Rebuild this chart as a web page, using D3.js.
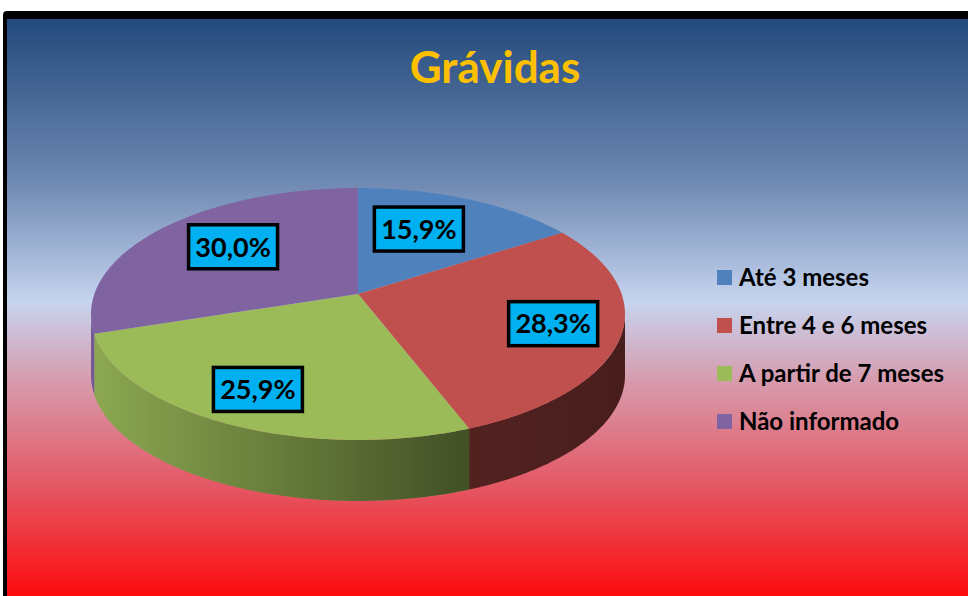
<!DOCTYPE html>
<html>
<head>
<meta charset="utf-8">
<script src="https://cdnjs.cloudflare.com/ajax/libs/d3/7.8.5/d3.min.js"></script>
<style>
  html, body { margin: 0; padding: 0; background: #fff; }
  svg { display: block; font-family: Lato, "Open Sans", sans-serif; }
</style>
</head>
<body>
<div id="chart"></div>
<script>
// data
var title = "Grávidas";
var categories = ["Até 3 meses", "Entre 4 e 6 meses", "A partir de 7 meses", "Não informado"];
var values = [15.9, 28.3, 25.9, 30.0];
var colors = ["#4f81bd", "#c0504d", "#9bbb59", "#8064a2"];

// label placement (radius as fraction of the pie, angle nudge in degrees)
var labelRadius = [0.63, 0.75, 0.77, 0.65];
var labelNudge = [-5, 0, 0.5, 3];

var width = 968, height = 596;
var cx = 358, cy = 294;      // projected centre of the top face
var rx = 263.6, ry = 122.8;  // pie radii before perspective
var persp = 0.1587;          // perspective strength (near side bigger)
var depth = 61;              // thickness of the pie

var svg = d3.select("#chart").append("svg")
  .attr("width", width).attr("height", height);
var defs = svg.append("defs");

// background gradient
var bg = defs.append("linearGradient").attr("id", "bg")
  .attr("x1", 0).attr("y1", 0).attr("x2", 0).attr("y2", 1);
bg.append("stop").attr("offset", 0).attr("stop-color", "#234a7c");
bg.append("stop").attr("offset", 0.28).attr("stop-color", "#6d88b1");
bg.append("stop").attr("offset", 0.49).attr("stop-color", "#c6d4ef");
bg.append("stop").attr("offset", 0.63).attr("stop-color", "#d79aac");
bg.append("stop").attr("offset", 0.82).attr("stop-color", "#e5535f");
bg.append("stop").attr("offset", 1).attr("stop-color", "#fd0c0e");

// shading for the pie walls
var shade = defs.append("linearGradient").attr("id", "shade")
  .attr("gradientUnits", "userSpaceOnUse")
  .attr("x1", cx - 267).attr("y1", 0).attr("x2", cx + 267).attr("y2", 0);
shade.append("stop").attr("offset", 0).attr("stop-color", "#000").attr("stop-opacity", 0.1);
shade.append("stop").attr("offset", 0.4).attr("stop-color", "#000").attr("stop-opacity", 0.37);
shade.append("stop").attr("offset", 0.7).attr("stop-color", "#000").attr("stop-opacity", 0.57);
shade.append("stop").attr("offset", 1).attr("stop-color", "#000").attr("stop-opacity", 0.63);

// frame
svg.append("rect").attr("x", 3).attr("y", 11).attr("width", 1000).attr("height", 700)
  .attr("rx", 4).attr("fill", "#000");
svg.append("rect").attr("x", 7).attr("y", 19).attr("width", 1000).attr("height", height - 19)
  .attr("fill", "url(#bg)");

// title
svg.append("text").attr("x", 495).attr("y", 83)
  .attr("text-anchor", "middle")
  .attr("font-size", 44).attr("font-weight", "bold")
  .attr("fill", "#ffc000")
  .text(title);

// angle 0 = top (far side), going clockwise
function project(a, r, dz) {
  var u = Math.sin(a) * r, v = -Math.cos(a) * r;
  var k = 1 - persp * v;
  return [cx + rx * u / k, cy + ry * v / k + (dz || 0)];
}

function arcPoints(a0, a1, dz) {
  var n = Math.max(2, Math.ceil((a1 - a0) / 0.01));
  return d3.range(n + 1).map(function(i) {
    return project(a0 + (a1 - a0) * i / n, 1, dz);
  });
}

var pie = d3.pie().sort(null).value(function(d) { return d; });
var arcs = pie(values);
var line = d3.line();

var pieG = svg.append("g");

// walls (only the near half is visible)
var visA = Math.acos(-persp), visB = 2 * Math.PI - Math.acos(-persp);
arcs.forEach(function(d, i) {
  var a0 = Math.max(d.startAngle, visA), a1 = Math.min(d.endAngle, visB);
  if (a1 <= a0) return;
  var pts = arcPoints(a0, a1, 0).concat(arcPoints(a0, a1, depth).reverse());
  pieG.append("path").attr("d", line(pts) + "Z").attr("fill", colors[i]);
  pieG.append("path").attr("d", line(pts) + "Z").attr("fill", "url(#shade)");
});

// top faces
arcs.forEach(function(d, i) {
  var pts = [project(0, 0)].concat(arcPoints(d.startAngle, d.endAngle, 0));
  pieG.append("path").attr("d", line(pts) + "Z").attr("fill", colors[i]);
});

// data labels
var labW = 89, labH = 44;
arcs.forEach(function(d, i) {
  var mid = (d.startAngle + d.endAngle) / 2 + labelNudge[i] * Math.PI / 180;
  var p = project(mid, labelRadius[i]);
  var g = pieG.append("g").attr("transform", "translate(" + p[0] + "," + p[1] + ")");
  g.append("rect").attr("x", -labW / 2).attr("y", -labH / 2)
    .attr("width", labW).attr("height", labH)
    .attr("fill", "#00b0f0").attr("stroke", "#000").attr("stroke-width", 3.5);
  g.append("text").attr("text-anchor", "middle").attr("dy", "0.36em")
    .attr("font-size", 27).attr("font-weight", "bold").attr("fill", "#000")
    .text(d3.format(".1f")(values[i]).replace(".", ",") + "%");
});

// legend
var legY = d3.scalePoint().domain(categories).range([277, 421]);
var leg = svg.append("g");
categories.forEach(function(c, i) {
  var y = legY(c);
  leg.append("rect").attr("x", 717).attr("y", y - 7).attr("width", 15).attr("height", 15)
    .attr("fill", colors[i]);
  leg.append("text").attr("x", 739).attr("y", y).attr("dy", "0.36em")
    .attr("font-size", 24).attr("font-weight", "bold").attr("fill", "#000")
    .text(c);
});
</script>
</body>
</html>
